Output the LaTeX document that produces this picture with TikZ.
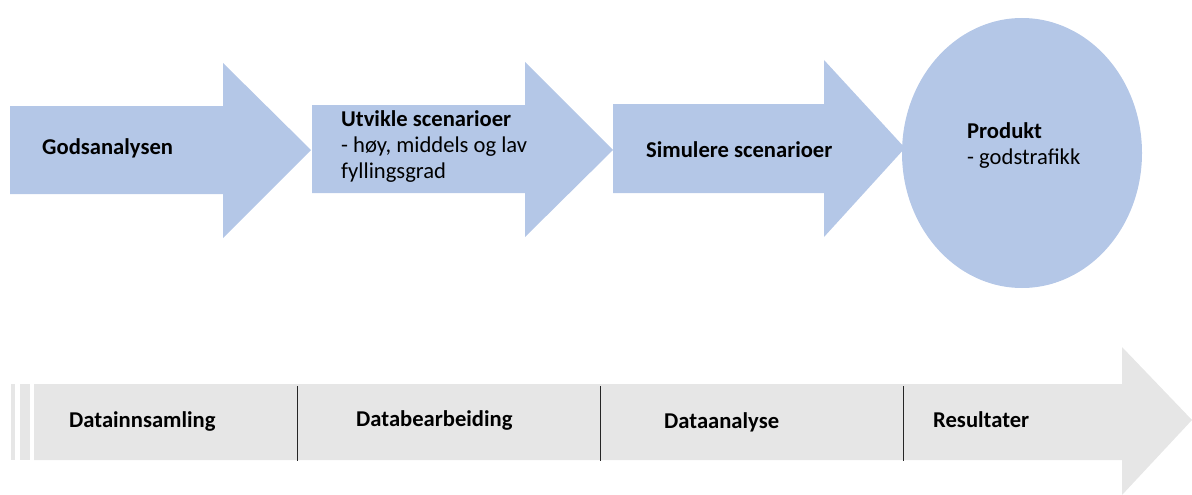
\documentclass[tikz,border=0pt]{standalone}
\usepackage{fontspec}
\setmainfont{Carlito}
\definecolor{stepblue}{RGB}{180,199,231}
\definecolor{phasegrey}{RGB}{230,230,230}
\tikzset{
	steparrow/.style={fill=stepblue, draw=none},
	phasebar/.style={fill=phasegrey, draw=none},
	steptext/.style={anchor=west, inner sep=0pt, align=left, font=\fontsize{22.6}{26}\selectfont},
	divider/.style={draw=black!85, line width=1pt}
}

\begin{document}
\begin{tikzpicture}[x=1pt, y=-1pt]
	\useasboundingbox (0,0) rectangle (1192,495);

	% Step arrows (blue)
	\fill[steparrow] (10,106) -- (223,106) -- (223,63) -- (311,150) -- (223,238) -- (223,194) -- (10,194) -- cycle;
	\fill[steparrow] (312,105) -- (525,105) -- (525,62) -- (613,150) -- (525,237) -- (525,193) -- (312,193) -- cycle;
	\fill[steparrow] (613,104) -- (824,104) -- (824,60) -- (905,148) -- (824,237) -- (824,193) -- (613,193) -- cycle;

	% Product ellipse
	\fill[steparrow] (1022,153) ellipse [x radius=120, y radius=135];

	% Timeline arrow (grey) with the two stripes at its tail
	\fill[phasebar] (10.5,384) rectangle (15,460);
	\fill[phasebar] (20,384) rectangle (29.5,460);
	\fill[phasebar] (34,384) -- (1122,384) -- (1122,347) -- (1192,420) -- (1122,495) -- (1122,460) -- (34,460) -- cycle;

	% Dividers between the phases
	\draw[divider] (297,386) -- (297,461);
	\draw[divider] (600,386) -- (600,461);
	\draw[divider] (903,386) -- (903,461);

	% Labels of the steps
	\node[steptext] (gods) at (42,148) {\textbf{Godsanalysen}};
	\node[steptext] (utvikle) at (341,147) {\textbf{Utvikle scenarioer}\\- høy, middels og lav\\fyllingsgrad};
	\node[steptext] (simulere) at (646,150) {\textbf{Simulere scenarioer}};
	\node[steptext] (produkt) at (967,146) {\textbf{Produkt}\\- godstrafikk};

	% Labels of the phases
	\node[steptext] (innsamling) at (69,421) {\textbf{Datainnsamling}};
	\node[steptext] (bearbeiding) at (356,420) {\textbf{Databearbeiding}};
	\node[steptext] (analyse) at (664,422) {\textbf{Dataanalyse}};
	\node[steptext] (resultater) at (933,420) {\textbf{Resultater}};
\end{tikzpicture}
\end{document}
